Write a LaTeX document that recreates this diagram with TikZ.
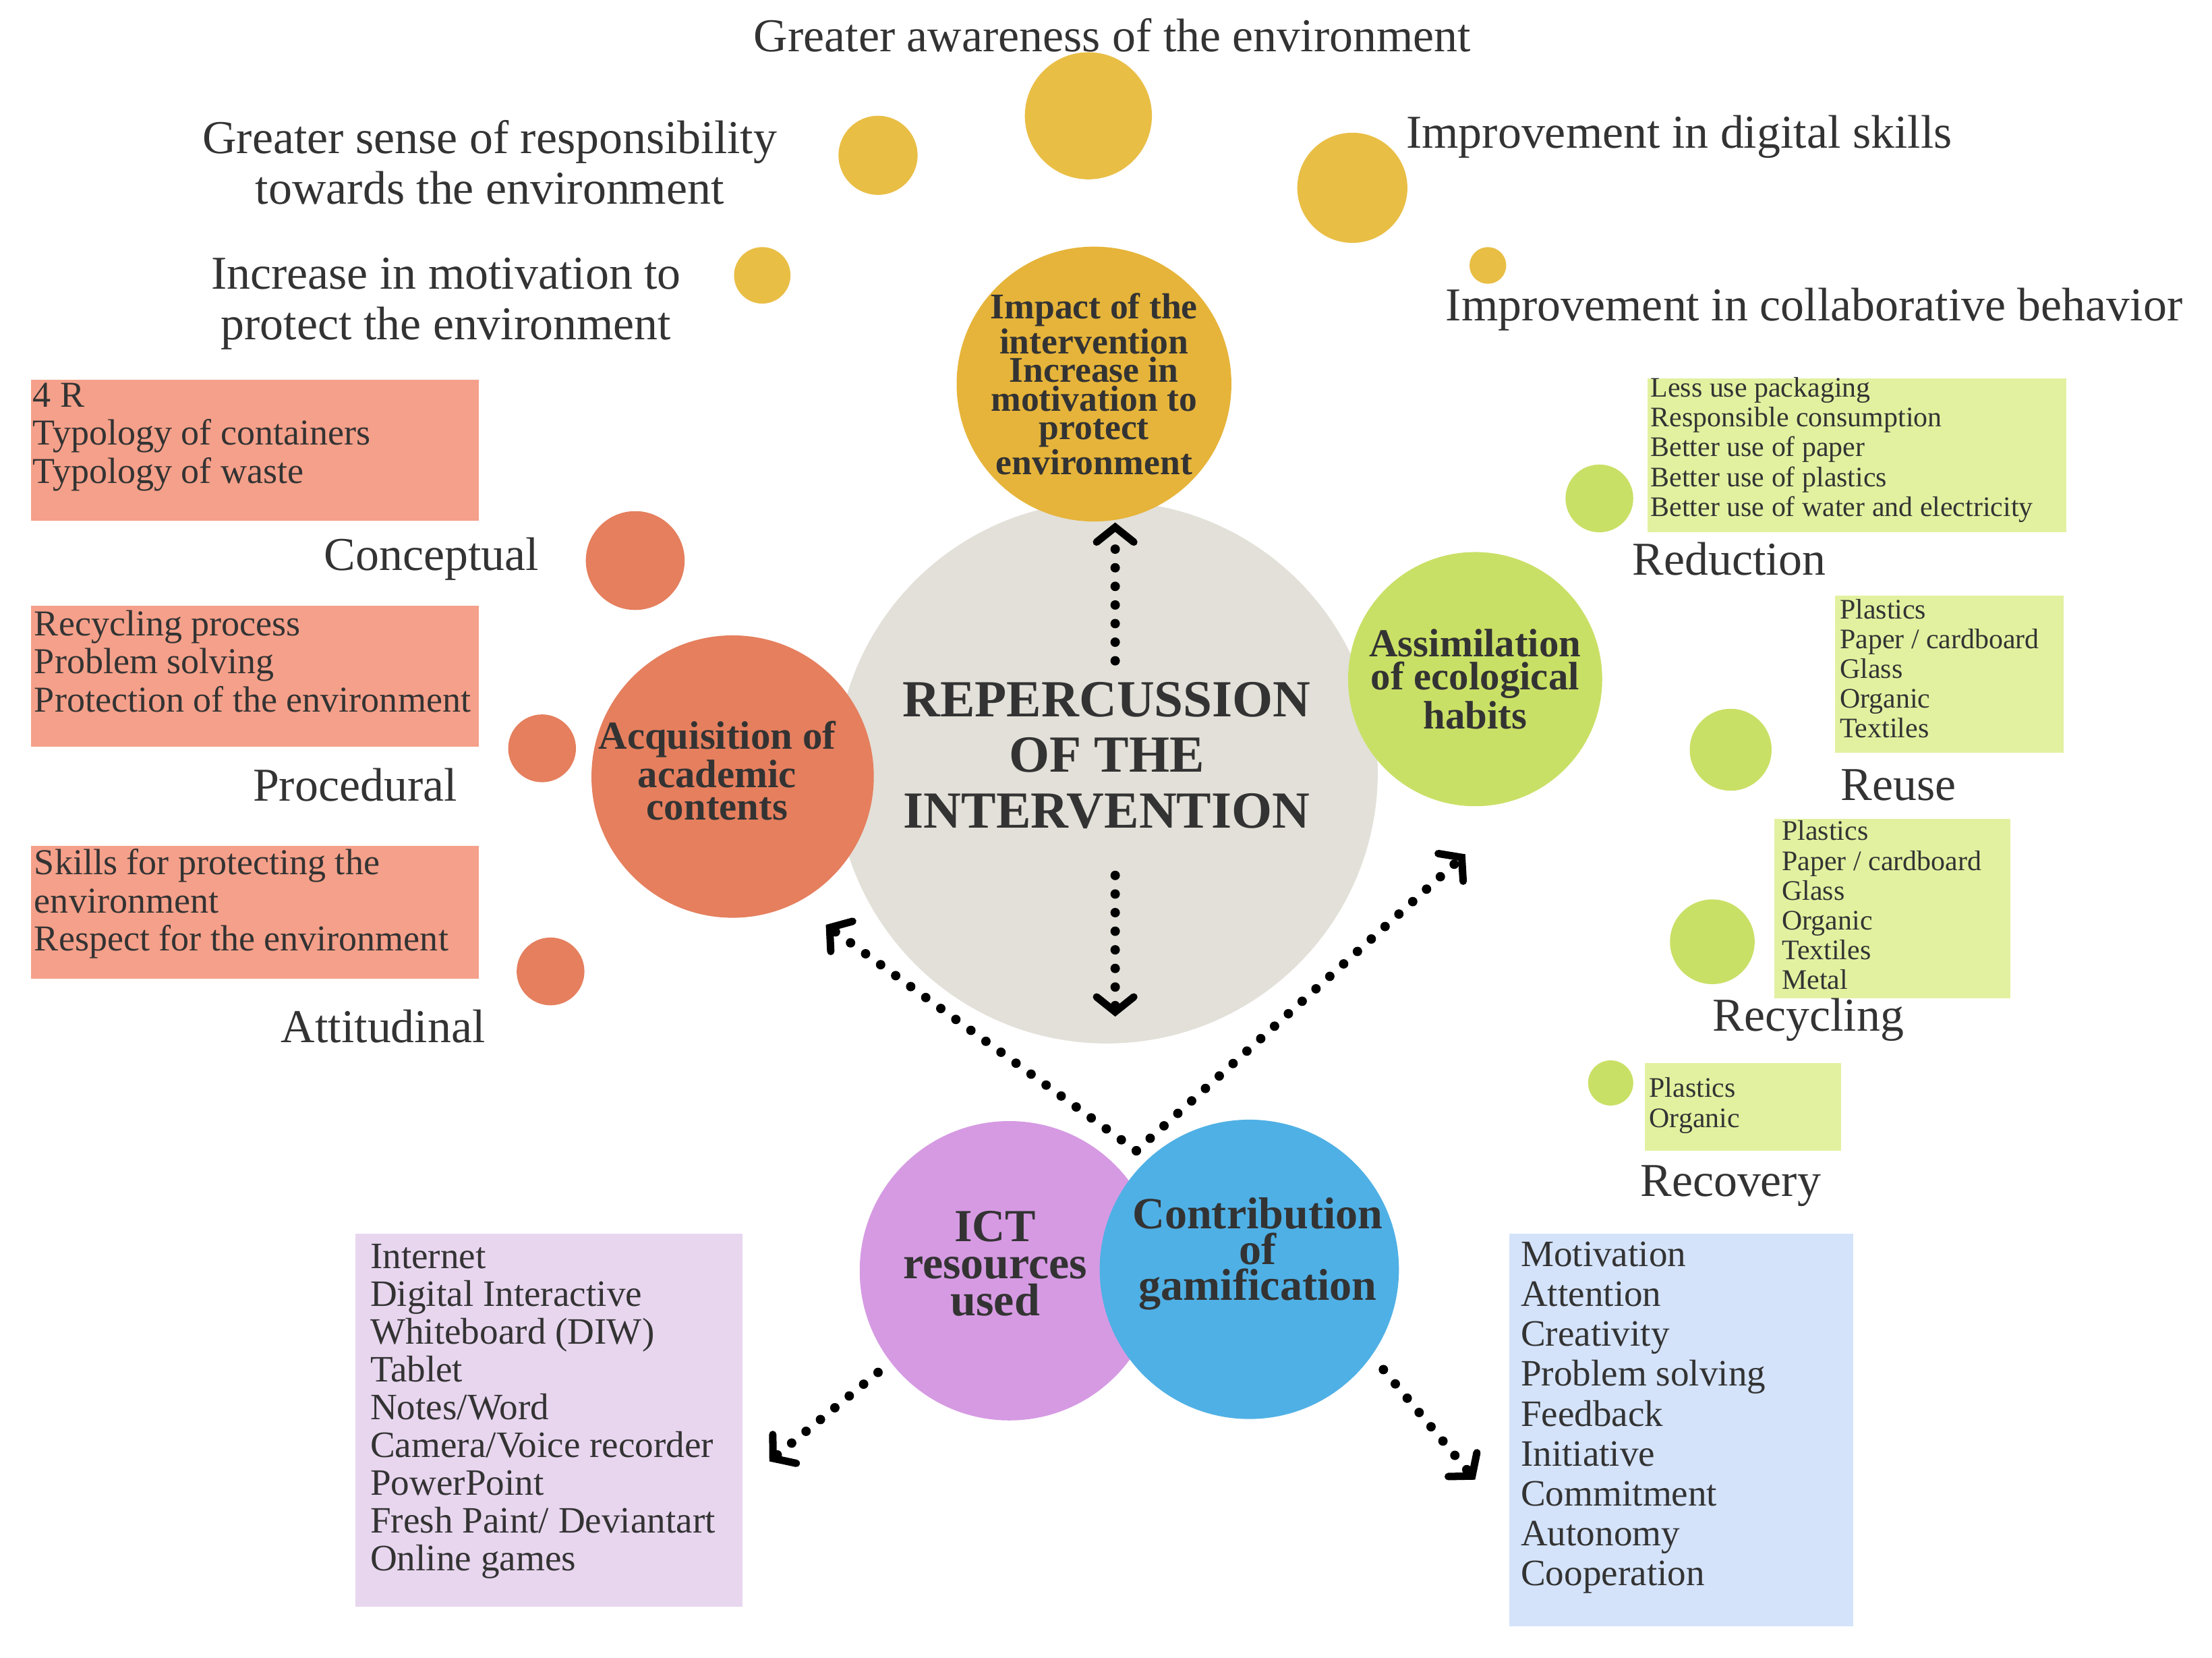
\documentclass[tikz,border=0pt]{standalone}
\usepackage{fontspec}
\setmainfont{Liberation Serif}
\usetikzlibrary{arrows.meta}
\definecolor{gold}{HTML}{E9BE45}
\definecolor{golddk}{HTML}{E6B43A}
\definecolor{cgrey}{HTML}{E2E0D8}
\definecolor{corange}{HTML}{E57F5E}
\definecolor{borange}{HTML}{F5A08A}
\definecolor{cgreen}{HTML}{C9E066}
\definecolor{bgreen}{HTML}{E2F1A0}
\definecolor{cpurple}{HTML}{D69AE3}
\definecolor{bpurple}{HTML}{E8D6EF}
\definecolor{cblue}{HTML}{4FB0E5}
\definecolor{bblue}{HTML}{D4E3FA}
\definecolor{txt}{HTML}{333333}
\tikzset{
 dot/.style={circle,inner sep=0pt,draw=none},
 lab/.style={font=\fontsize{19}{21}\selectfont,text=txt},
 toplab/.style={font=\fontsize{19}{20.4}\selectfont,text=txt,align=center},
 btext/.style={text=txt,align=left,anchor=north west,inner sep=0pt},
 gtext/.style={font=\fontsize{11.4}{12}\selectfont,text=txt,align=left,anchor=north west,inner sep=0pt},
 ltext/.style={font=\fontsize{14.7}{15.3}\selectfont,text=txt,align=left,anchor=north west,inner sep=0pt},
 arr/.style={line width=3.8pt,dash pattern=on 0pt off 7.5pt,line cap=round,
   -{Straight Barb[length=6pt,width=15pt,line width=3pt,line cap=round]}},
}
\begin{document}
\begin{tikzpicture}[x=0.02cm,y=-0.02cm]
\useasboundingbox[fill=white] (0,0) rectangle (1567,1174);
% yellow dots
\node[dot,fill=gold,minimum size=90*0.02cm] (y1) at (771,82) {};
\node[dot,fill=gold,minimum size=56*0.02cm] (y2) at (622,110) {};
\node[dot,fill=gold,minimum size=78*0.02cm] (y3) at (958,133) {};
\node[dot,fill=gold,minimum size=40*0.02cm] (y4) at (540,195) {};
\node[dot,fill=gold,minimum size=26*0.02cm] (y5) at (1054,188) {};
\node[toplab] (t1) at (788,25) {Greater awareness of the environment};
\node[toplab] (t2) at (347,115) {Greater sense of responsibility\\towards the environment};
\node[toplab] (t3) at (316,215) {Increase in motivation to\\protect the environment};
\node[toplab,anchor=west] (t4) at (990,97) {Improvement in digital skills};
\node[toplab,anchor=west] (t5) at (1018,219) {Improvement in collaborative behavior};
% big circles
\node[dot,fill=cgrey,minimum size=384*0.02cm] (c) at (784,547) {};
\node[dot,fill=golddk,minimum size=190*0.02cm,font=\bfseries\fontsize{14.6}{11.5}\selectfont,text=txt,align=center] (imp) at (775,272) {Impact of the\\intervention\\Increase in\\motivation to\\protect\\environment};
\node[font=\bfseries\fontsize{21}{22.5}\selectfont,text=txt,align=center] (ct) at (784,535) {REPERCUSSION\\OF THE\\INTERVENTION};
\node[dot,fill=corange,minimum size=200*0.02cm] (acq) at (519,550) {};
\node[font=\bfseries\fontsize{16}{13}\selectfont,text=txt,align=center] (acqt) at (508,546) {Acquisition of\\academic\\contents};
\node[dot,fill=cgreen,minimum size=180*0.02cm,font=\bfseries\fontsize{16}{13.3}\selectfont,text=txt,align=center] (as) at (1045,481) {Assimilation\\of ecological\\habits};
\node[dot,fill=cpurple,minimum size=212*0.02cm] (ict) at (715,900) {};
\node[font=\bfseries\fontsize{18.5}{15}\selectfont,text=txt,align=center] (ictt) at (705,895) {ICT\\resources\\used};
\node[dot,fill=cblue,minimum size=212*0.02cm] (gam) at (885,899) {};
\node[font=\bfseries\fontsize{18}{14.5}\selectfont,text=txt,align=center] (gamt) at (891,888) {Contribution\\of\\gamification};
% orange
\node[dot,fill=corange,minimum size=70*0.02cm] (o1) at (450,397) {};
\node[dot,fill=corange,minimum size=48*0.02cm] (o2) at (384,530) {};
\node[dot,fill=corange,minimum size=48*0.02cm] (o3) at (390,688) {};
\fill[borange] (22,269) rectangle (339,369);
\fill[borange] (22,429) rectangle (339,529);
\fill[borange] (22,599) rectangle (339,693);
\node[ltext] (ob1) at (23,271) {4 R\\Typology of containers\\Typology of waste};
\node[ltext] (ob2) at (24,432) {Recycling process\\Problem solving\\Protection of the environment};
\node[ltext] (ob3) at (24,601) {Skills for protecting the\\environment\\Respect for the environment};
\node[lab,anchor=east] (l1) at (388,396) {Conceptual};
\node[lab,anchor=east] (l2) at (330,556) {Procedural};
\node[lab,anchor=east] (l3) at (350,727) {Attitudinal};
% green
\node[dot,fill=cgreen,minimum size=48*0.02cm] (g1) at (1133,353) {};
\node[dot,fill=cgreen,minimum size=58*0.02cm] (g2) at (1226,531) {};
\node[dot,fill=cgreen,minimum size=60*0.02cm] (g3) at (1213,667) {};
\node[dot,fill=cgreen,minimum size=32*0.02cm] (g4) at (1141,767) {};
\fill[bgreen] (1167,268) rectangle (1464,377);
\fill[bgreen] (1300,422) rectangle (1462,533);
\fill[bgreen] (1257,580) rectangle (1424,707);
\fill[bgreen] (1165,753) rectangle (1304,815);
\node[gtext] (gb1) at (1169,267) {Less use packaging\\Responsible consumption\\Better use of paper\\Better use of plastics\\Better use of water and electricity};
\node[gtext] (gb2) at (1303,424) {Plastics\\Paper / cardboard\\Glass\\Organic\\Textiles};
\node[gtext] (gb3) at (1262,581) {Plastics\\Paper / cardboard\\Glass\\Organic\\Textiles\\Metal};
\node[gtext] (gb4) at (1168,763) {Plastics\\Organic};
\node[lab] (r1) at (1225,396) {Reduction};
\node[lab] (r2) at (1345,556) {Reuse};
\node[lab] (r3) at (1281,722) {Recycling};
\node[lab] (r4) at (1226,840) {Recovery};
% bottom boxes
\fill[bpurple] (252,874) rectangle (526,1138);
\fill[bblue] (1069,874) rectangle (1313,1152);
\node[btext,font=\fontsize{15}{15.2}\selectfont] (pb) at (262,881) {Internet\\Digital Interactive\\Whiteboard (DIW)\\Tablet\\Notes/Word\\Camera/Voice recorder\\PowerPoint\\Fresh Paint/ Deviantart\\Online games};
\node[btext,font=\fontsize{15}{16.1}\selectfont] (bb) at (1077,879) {Motivation\\Attention\\Creativity\\Problem solving\\Feedback\\Initiative\\Commitment\\Autonomy\\Cooperation};
% arrows
\coordinate (cu1) at (790,468); \coordinate (cu2) at (790,370);
\coordinate (cd1) at (790,620); \coordinate (cd2) at (790,720);
\coordinate (b0) at (805,815);
\coordinate (bl) at (585,655); \coordinate (br) at (1038,605);
\coordinate (p1) at (622,972); \coordinate (p2) at (545,1035);
\coordinate (q1) at (980,970); \coordinate (q2) at (1045,1048);
\draw[arr] (cu1) -- (cu2);
\draw[arr] (cd1) -- (cd2);
\draw[arr] (b0) -- (bl);
\draw[arr] (b0) -- (br);
\draw[arr] (p1) -- (p2);
\draw[arr] (q1) -- (q2);
\end{tikzpicture}
\end{document}
